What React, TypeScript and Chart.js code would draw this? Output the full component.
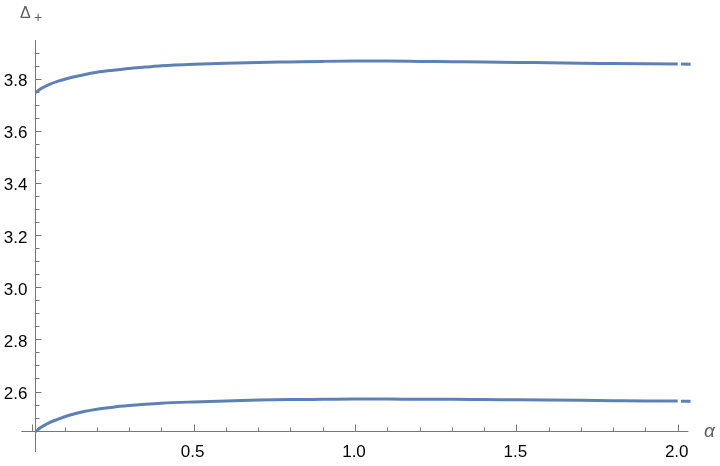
import React, { useEffect, useRef } from "react";
import { Chart, registerables } from "chart.js";

Chart.register(...registerables);

// α samples (null value at 2.005 reproduces the tiny break in the curves)
const ALPHA = [0.01, 0.025, 0.05, 0.08, 0.12, 0.16, 0.2, 0.25, 0.3, 0.35, 0.4, 0.5, 0.6, 0.7, 0.8, 0.9, 1.0, 1.1, 1.2, 1.3, 1.4, 1.5, 1.6, 1.7, 1.8, 1.9, 2.0, 2.005, 2.01, 2.04];
const UPPER = [3.746, 3.760, 3.776, 3.790, 3.804, 3.815, 3.824, 3.832, 3.839, 3.844, 3.849, 3.855, 3.859, 3.862, 3.864, 3.866, 3.867, 3.867, 3.866, 3.865, 3.864, 3.862, 3.861, 3.859, 3.858, 3.857, 3.856, null, 3.856, 3.855];
const LOWER = [2.446, 2.461, 2.479, 2.494, 2.511, 2.523, 2.532, 2.540, 2.546, 2.551, 2.555, 2.560, 2.564, 2.567, 2.569, 2.570, 2.571, 2.571, 2.570, 2.570, 2.569, 2.568, 2.567, 2.566, 2.565, 2.564, 2.564, null, 2.563, 2.563];

const X_MAJOR = [0, 0.5, 1.0, 1.5, 2.0];
const X_LABELS = ["", "0.5", "1.0", "1.5", "2.0"];
const X_MINOR = [0.1, 0.2, 0.3, 0.4, 0.6, 0.7, 0.8, 0.9, 1.1, 1.2, 1.3, 1.4, 1.6, 1.7, 1.8, 1.9];
const Y_MAJOR = [2.6, 2.8, 3.0, 3.2, 3.4, 3.6, 3.8];
const Y_LABELS = ["2.6", "2.8", "3.0", "3.2", "3.4", "3.6", "3.8"];
const Y_MINOR = [2.5, 2.55, 2.65, 2.7, 2.75, 2.85, 2.9, 2.95, 3.05, 3.1, 3.15, 3.25, 3.3, 3.35, 3.45, 3.5, 3.55, 3.65, 3.7, 3.75, 3.85, 3.9];

const X_AXIS_AT = 2.4493; // Δ value where α axis is drawn
const Y_AXIS_AT = 0.0084; // α value where Δ axis is drawn
const X_AXIS_RANGE = [-0.034, 2.033];
const Y_AXIS_RANGE = [2.368, 3.948];

const LINE_COLOR = "rgb(94,129,181)";
const AXIS_COLOR = "#777777";

const axesPlugin = {
  id: "mmaAxes",
  beforeDatasetsDraw(chart: any) {
    const ctx = chart.ctx;
    const xs = chart.scales.x;
    const ys = chart.scales.y;
    const x0 = Math.round(xs.getPixelForValue(Y_AXIS_AT)) + 0.5;
    const y0 = Math.round(ys.getPixelForValue(X_AXIS_AT)) + 0.5;
    ctx.save();
    ctx.strokeStyle = AXIS_COLOR;
    ctx.lineWidth = 1;
    ctx.beginPath();
    ctx.moveTo(xs.getPixelForValue(X_AXIS_RANGE[0]), y0);
    ctx.lineTo(xs.getPixelForValue(X_AXIS_RANGE[1]), y0);
    ctx.moveTo(x0, ys.getPixelForValue(Y_AXIS_RANGE[0]));
    ctx.lineTo(x0, ys.getPixelForValue(Y_AXIS_RANGE[1]));
    X_MAJOR.forEach((v) => {
      const px = Math.round(xs.getPixelForValue(v)) + 0.5;
      ctx.moveTo(px, y0);
      ctx.lineTo(px, y0 - 7);
    });
    X_MINOR.forEach((v) => {
      const px = Math.round(xs.getPixelForValue(v)) + 0.5;
      ctx.moveTo(px, y0);
      ctx.lineTo(px, y0 - 4);
    });
    Y_MAJOR.forEach((v) => {
      const py = Math.round(ys.getPixelForValue(v)) + 0.5;
      ctx.moveTo(x0, py);
      ctx.lineTo(x0 + 6, py);
    });
    Y_MINOR.forEach((v) => {
      const py = Math.round(ys.getPixelForValue(v)) + 0.5;
      ctx.moveTo(x0, py);
      ctx.lineTo(x0 + 4, py);
    });
    ctx.stroke();

    ctx.fillStyle = "#000000";
    ctx.font = '17px "Liberation Sans", Arial, sans-serif';
    ctx.textAlign = "center";
    ctx.textBaseline = "alphabetic";
    X_MAJOR.forEach((v, i) => {
      if (!X_LABELS[i]) return;
      ctx.fillText(X_LABELS[i], xs.getPixelForValue(v) - 1, y0 + 25);
    });
    ctx.textAlign = "right";
    Y_MAJOR.forEach((v, i) => {
      ctx.fillText(Y_LABELS[i], x0 - 8, ys.getPixelForValue(v) + 7.5);
    });

    ctx.fillStyle = "#5f5f5f";
    ctx.textAlign = "left";
    ctx.font = '16px "Liberation Sans", Arial, sans-serif';
    ctx.fillText("Δ", 20, 17.5);
    ctx.font = '14px "Liberation Sans", Arial, sans-serif';
    ctx.fillText("+", 34, 22);
    ctx.font = 'italic 19px "Liberation Sans", Arial, sans-serif';
    ctx.fillText("α", 704, 437);
    ctx.restore();
  },
};

export default function App() {
  const ref = useRef<HTMLCanvasElement | null>(null);
  useEffect(() => {
    if (!ref.current) return;
    const mk = (vals: (number | null)[]) => ALPHA.map((a, i) => ({ x: a, y: vals[i] }));
    const ds = (vals: (number | null)[]) => ({
      data: mk(vals) as any,
      borderColor: LINE_COLOR,
      borderWidth: 3,
      pointRadius: 0,
      cubicInterpolationMode: "monotone" as const,
      spanGaps: false,
      borderCapStyle: "butt" as const,
      clip: false as any,
    });
    const chart = new Chart(ref.current, {
      type: "line",
      data: { datasets: [ds(UPPER), ds(LOWER)] },
      options: {
        animation: false,
        responsive: false,
        maintainAspectRatio: false,
        layout: { padding: 0 },
        plugins: { legend: { display: false }, tooltip: { enabled: false } },
        scales: {
          x: { type: "linear", display: false, min: -0.1001, max: 2.1311 },
          y: { type: "linear", display: false, min: 2.3143, max: 4.1014 },
        },
      },
      plugins: [axesPlugin],
    });
    return () => chart.destroy();
  }, []);
  return (
    <div style={{ position: "fixed", left: 0, top: 0, width: 720, height: 466, background: "#fff" }}>
      <canvas ref={ref} width={720} height={466} style={{ width: 720, height: 466, display: "block" }} />
    </div>
  );
}
